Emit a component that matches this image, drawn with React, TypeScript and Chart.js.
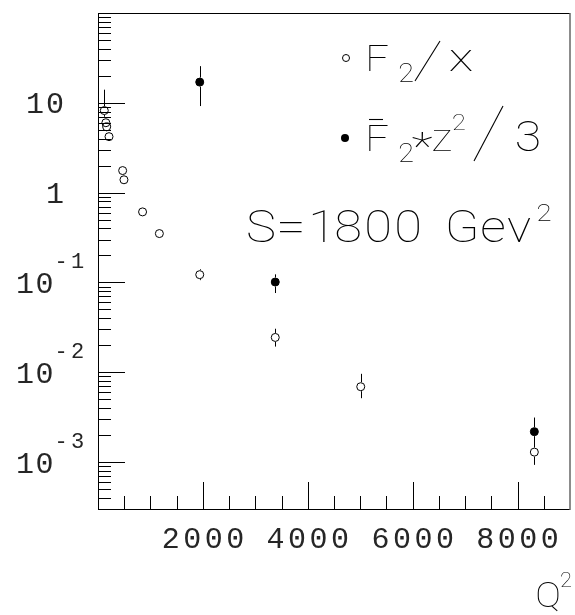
import { useEffect, useRef } from "react";
import { Chart, registerables } from "chart.js";

Chart.register(...registerables);

// F2/x measurements (open markers)
const openQ2 = [120, 150, 165, 210, 470, 495, 850, 1170, 1940, 3380, 5010, 8320];
const openF = [8.2, 6.0, 5.4, 4.2, 1.76, 1.39, 0.61, 0.35, 0.122, 0.0244, 0.0069, 0.00129];
const openLow = [7.0, 5.5, 5.0, 3.9, 1.66, 1.31, 0.58, 0.33, 0.106, 0.0193, 0.00514, 0.00093];
const openHigh = [14.0, 6.5, 5.8, 4.5, 1.86, 1.47, 0.64, 0.37, 0.14, 0.0305, 0.0096, 0.0018];

// F2*z^2/3 measurements (filled markers)
const fullQ2 = [1940, 3380, 8320];
const fullF = [17, 0.101, 0.00218];
const fullLow = [9.2, 0.0762, 0.0015];
const fullHigh = [25.6, 0.123, 0.00313];

// axis ranges and labelled ticks
const xMin = 0;
const xMax = 9000;
const yMin = 3e-4;
const yMax = 100;
const xLabelValues = [2000, 4000, 6000, 8000];
const yLabelValues = [10, 1, 0.1, 0.01, 0.001];
const yLabelBase = ["10", "1", "10", "10", "10"];
const yLabelExp = ["", "", "-1", "-2", "-3"];

const THIN = "Roboto";
const MONO = "'Liberation Mono'";

// a glyph run centred at x on baseline y, optionally stretched horizontally
type Piece = { t: string; x: number; y: number; size: number; sx?: number };

function drawPieces(ctx: CanvasRenderingContext2D, pieces: Piece[]) {
  ctx.fillStyle = "#000";
  ctx.textAlign = "center";
  ctx.textBaseline = "alphabetic";
  for (const p of pieces) {
    ctx.save();
    ctx.translate(p.x, p.y);
    ctx.scale(p.sx ?? 1.15, 1);
    ctx.font = `100 ${p.size}px ${THIN}`;
    ctx.fillText(p.t, 0, 0);
    ctx.restore();
  }
}

function line(ctx: CanvasRenderingContext2D, x1: number, y1: number, x2: number, y2: number) {
  ctx.beginPath();
  ctx.moveTo(x1, y1);
  ctx.lineTo(x2, y2);
  ctx.stroke();
}

// draws characters in fixed-width slots, first slot centred at x0
function drawSpaced(ctx: CanvasRenderingContext2D, text: string, x0: number, y: number, adv: number) {
  ctx.textAlign = "center";
  for (let i = 0; i < text.length; i++) {
    ctx.fillText(text[i], x0 + i * adv, y);
  }
}

const axesPlugin = {
  id: "axesPlugin",
  beforeDatasetsDraw(chart: any) {
    const { ctx, scales } = chart;
    const xs = scales.x;
    const ys = scales.y;
    ctx.save();
    ctx.strokeStyle = "#000";
    ctx.lineWidth = 1;
    const bar = (q: number, v: number, lo: number, hi: number, gap: number) => {
      const x = Math.round(xs.getPixelForValue(q)) + 0.5;
      const yc = ys.getPixelForValue(v);
      const yl = ys.getPixelForValue(lo);
      const yh = ys.getPixelForValue(hi);
      ctx.beginPath();
      if (yh < yc - gap) {
        ctx.moveTo(x, yc - gap);
        ctx.lineTo(x, yh);
      }
      if (yl > yc + gap) {
        ctx.moveTo(x, yc + gap);
        ctx.lineTo(x, yl);
      }
      ctx.stroke();
    };
    openQ2.forEach((q, i) => bar(q, openF[i], openLow[i], openHigh[i], 4.5));
    fullQ2.forEach((q, i) => bar(q, fullF[i], fullLow[i], fullHigh[i], 4.5));
    ctx.restore();
  },
  afterDraw(chart: any) {
    const { ctx, scales, chartArea } = chart;
    const xs = scales.x;
    const ys = scales.y;
    const { left, right, top, bottom } = chartArea;
    ctx.save();
    ctx.lineWidth = 1;
    ctx.strokeStyle = "#000";

    // frame
    ctx.beginPath();
    ctx.moveTo(left + 0.5, top + 0.5);
    ctx.lineTo(right, top + 0.5);
    ctx.moveTo(left + 0.5, top);
    ctx.lineTo(left + 0.5, bottom + 0.5);
    ctx.lineTo(right, bottom + 0.5);
    ctx.stroke();
    ctx.strokeStyle = "#666";
    ctx.lineWidth = 1.5;
    ctx.beginPath();
    ctx.moveTo(right, top);
    ctx.lineTo(right, bottom + 1);
    ctx.stroke();

    // y ticks (log, inward)
    ctx.strokeStyle = "#000";
    ctx.lineWidth = 1;
    ctx.beginPath();
    for (let e = -4; e <= 2; e++) {
      for (let m = 1; m <= 9; m++) {
        const v = m * Math.pow(10, e);
        if (v < yMin * 0.999 || v > yMax * 1.001) continue;
        const y = Math.round(ys.getPixelForValue(v)) + 0.5;
        const len = m === 1 ? 27 : 13;
        ctx.moveTo(left, y);
        ctx.lineTo(left + len, y);
      }
    }
    // x ticks (inward)
    for (let q = 500; q < xMax; q += 500) {
      const x = Math.round(xs.getPixelForValue(q)) + 0.5;
      const len = q % 2000 === 0 ? 27 : 13;
      ctx.moveTo(x, bottom);
      ctx.lineTo(x, bottom - len);
    }
    ctx.stroke();

    // tick labels
    ctx.fillStyle = "#262626";
    ctx.textBaseline = "alphabetic";
    ctx.font = `30px ${MONO}`;
    for (const q of xLabelValues) {
      const x = xs.getPixelForValue(q);
      const s = String(q);
      drawSpaced(ctx, s, x - ((s.length - 1) * 21.5) / 2, 548, 21.5);
    }
    yLabelValues.forEach((v, i) => {
      const y = ys.getPixelForValue(v);
      const base = yLabelBase[i];
      const exp = yLabelExp[i];
      ctx.font = `30px ${MONO}`;
      if (exp) {
        drawSpaced(ctx, base, 25, y + 10.5, 19.5);
        ctx.font = `22px ${MONO}`;
        drawSpaced(ctx, exp, 61, y - 14.5, 16.5);
      } else {
        drawSpaced(ctx, base, 55 - (base.length - 1) * 20, y + 10.5, 20);
      }
    });

    // axis title
    drawPieces(ctx, [
      { t: "Q", x: 548, y: 607, size: 35, sx: 1.1 },
      { t: "2", x: 566, y: 587, size: 20, sx: 1.1 },
    ]);

    // legend markers
    ctx.strokeStyle = "#000";
    ctx.lineWidth = 1;
    ctx.beginPath();
    ctx.arc(346, 58, 3.5, 0, Math.PI * 2);
    ctx.stroke();
    ctx.fillStyle = "#000";
    ctx.beginPath();
    ctx.arc(345, 138, 4, 0, Math.PI * 2);
    ctx.fill();

    drawPieces(ctx, [
      // F2/x
      { t: "F", x: 377, y: 71, size: 36 },
      { t: "2", x: 406, y: 82, size: 25 },
      { t: "x", x: 461, y: 71, size: 38, sx: 1.35 },
      // F2*z2/3
      { t: "F", x: 377, y: 151, size: 36 },
      { t: "2", x: 406, y: 162, size: 25 },
      { t: "*", x: 422, y: 160, size: 38, sx: 1.3 },
      { t: "Z", x: 442, y: 151, size: 30 },
      { t: "2", x: 459, y: 130, size: 22 },
      { t: "3", x: 528, y: 151, size: 42 },
      // S = 1800 GeV^2
      { t: "S", x: 261, y: 242, size: 44 },
      { t: "=", x: 291, y: 242, size: 44, sx: 1.2 },
      { t: "1", x: 322, y: 242, size: 44 },
      { t: "8", x: 348, y: 242, size: 44 },
      { t: "0", x: 378, y: 242, size: 44 },
      { t: "0", x: 408, y: 242, size: 44 },
      { t: "G", x: 462, y: 242, size: 44 },
      { t: "e", x: 493, y: 242, size: 44 },
      { t: "v", x: 519, y: 242, size: 44 },
      { t: "2", x: 544, y: 221, size: 24 },
    ]);
    // slashes and the overline on the second F
    ctx.lineWidth = 1.1;
    line(ctx, 415, 81, 440, 41);
    line(ctx, 474, 161, 503, 106);
    line(ctx, 369, 119.5, 383, 119.5);
    ctx.restore();
  },
};

export default function App() {
  const ref = useRef<HTMLCanvasElement>(null);
  useEffect(() => {
    const chart = new Chart(ref.current!, {
      type: "scatter",
      data: {
        datasets: [
          {
            label: "F2/x",
            data: openQ2.map((q, i) => ({ x: q, y: openF[i] })),
            pointStyle: "circle",
            pointRadius: 4,
            borderColor: "#000",
            backgroundColor: "rgba(0,0,0,0)",
            borderWidth: 1,
          },
          {
            label: "F2*z2/3",
            data: fullQ2.map((q, i) => ({ x: q, y: fullF[i] })),
            pointStyle: "circle",
            pointRadius: 4,
            borderColor: "#000",
            backgroundColor: "#000",
            borderWidth: 1,
          },
        ],
      },
      options: {
        animation: false,
        responsive: false,
        events: [],
        layout: { padding: { left: 98, top: 13, right: 3, bottom: 106 } },
        plugins: { legend: { display: false }, tooltip: { enabled: false } },
        scales: {
          x: { type: "linear", min: xMin, max: xMax, display: false },
          y: { type: "logarithmic", min: yMin, max: yMax, display: false },
        },
      },
      plugins: [axesPlugin],
    });
    return () => chart.destroy();
  }, []);
  return (
    <div style={{ position: "fixed", left: 0, top: 0, width: 575, height: 615, background: "#fff" }}>
      <canvas ref={ref} width={575} height={615} style={{ display: "block" }} />
    </div>
  );
}
